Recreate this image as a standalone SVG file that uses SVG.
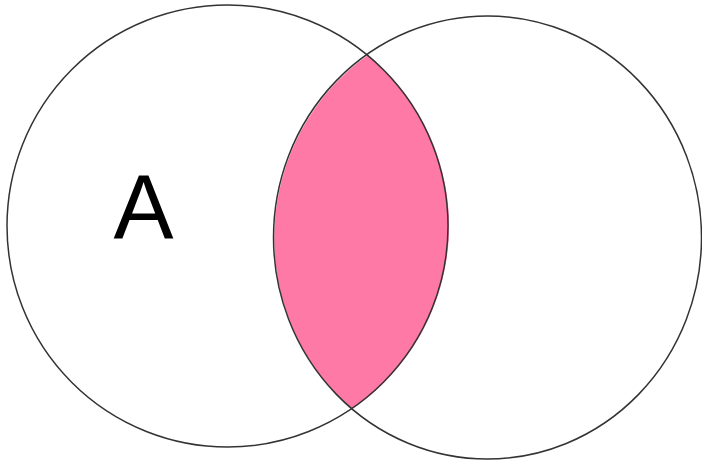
<svg xmlns="http://www.w3.org/2000/svg" width="702" height="461" viewBox="0 0 702 461">
<style>
.outline{fill:none;stroke:#333;stroke-width:1.5}
.lens{fill:#ff79a7;stroke:none}
.label{font-family:"Liberation Sans",Arial,sans-serif;font-size:90px;fill:#000}
</style>
<rect width="702" height="461" fill="#fff"/>
<g id="intersection">
<path class="lens" d="M368,55 A214,221.5 0 0 0 352,409 A221,221 0 0 0 368,55 Z"/>
</g>
<g id="setA">
<ellipse class="outline" cx="227.5" cy="226" rx="220.5" ry="221"/>
<text class="label" x="143.5" y="238" text-anchor="middle">A</text>
</g>
<g id="setB">
<ellipse class="outline" cx="487.5" cy="237.5" rx="214" ry="221.5"/>
</g>
<g id="connectors"/>
</svg>
